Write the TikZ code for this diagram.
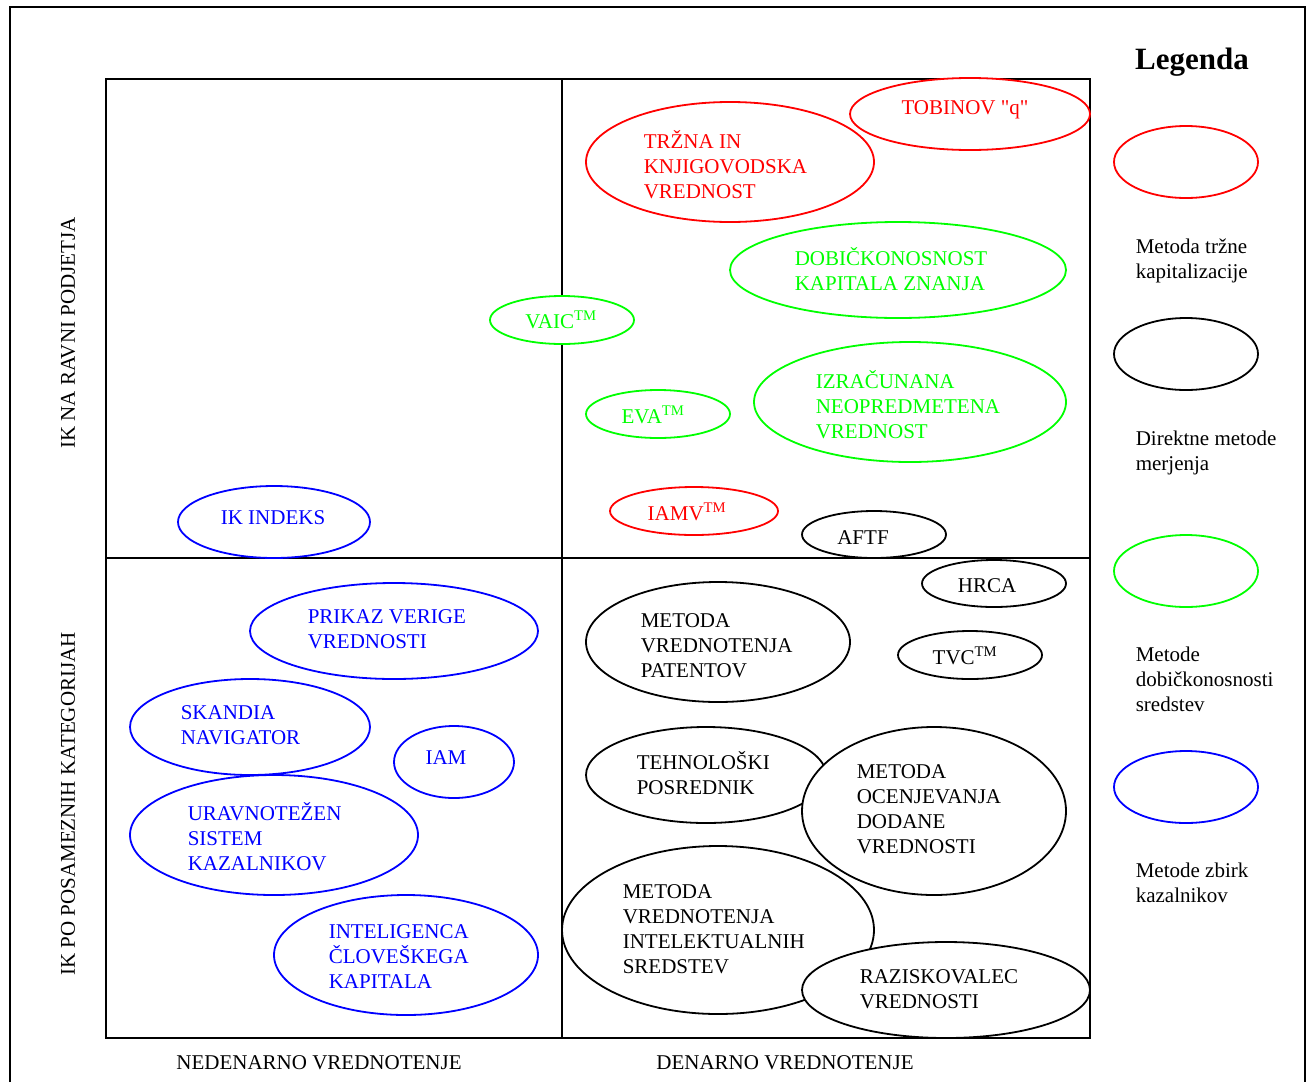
\documentclass[tikz,border=0pt]{standalone}
\usepackage{fontspec}
\setmainfont{Liberation Serif}
\usetikzlibrary{shapes.geometric}
\definecolor{pureG}{RGB}{0,255,0}
\begin{document}
\begin{tikzpicture}[x=1pt,y=-1pt, line width=1.6pt,
  ov/.style={ellipse, draw, fill=white, line width=1.8pt, inner sep=0pt},
  esz/.style 2 args={minimum width=#1pt, minimum height=#2pt},
  redov/.style={ov, draw=red},
  grnov/.style={ov, draw=pureG},
  bluov/.style={ov, draw=blue},
  blkov/.style={ov, draw=black},
  tx/.style={font=\fontsize{21}{25}\selectfont, align=left, inner sep=0pt},
  txw/.style={tx, anchor=west},
  lbl/.style={font=\fontsize{21}{25}\selectfont, align=left, inner sep=0pt},
]
\useasboundingbox (0,0) rectangle (1311,1082);
% outer frame
\draw (10,1082) -- (10,7) -- (1305,7) -- (1305,1082);
% quadrant grid
\draw (106,79) rectangle (1090,1038);
\draw (562,79) -- (562,1038);
\draw (106,558) -- (1090,558);

% methods
\node[redov, esz={240}{72}] (tobin) at (970,114) {};
\node[tx, text=red] (tobint) at (965,110) {TOBINOV \textquotedbl q\textquotedbl};
\node[redov, esz={288}{120}] (trzna) at (730,162) {};
\node[txw, text=red] (trznat) at (643,165) {TRŽNA IN\\KNJIGOVODSKA\\VREDNOST};
\node[grnov, esz={336}{96}] (dobic) at (898,270) {};
\node[txw, text=pureG] (dobict) at (794,269.5) {DOBIČKONOSNOST\\KAPITALA ZNANJA};
\node[grnov, esz={144}{48}] (vaic) at (562,320) {};
\node[tx, text=pureG] (vaict) at (561,320) {VAIC\textsuperscript{TM}};
\node[grnov, esz={312}{120}] (izrac) at (910,402) {};
\node[txw, text=pureG] (izract) at (815,405) {IZRAČUNANA\\NEOPREDMETENA\\VREDNOST};
\node[grnov, esz={144}{48}] (eva) at (658,414) {};
\node[tx, text=pureG] (evat) at (653,415) {EVA\textsuperscript{TM}};
\node[bluov, esz={192}{72}] (ikind) at (274,522) {};
\node[tx, text=blue] (ikindt) at (273,518) {IK INDEKS};
\node[redov, esz={168}{48}] (iamv) at (694,511) {};
\node[tx, text=red] (iamvt) at (687,512) {IAMV\textsuperscript{TM}};
\node[blkov, esz={144}{47}] (aftf) at (874,534.5) {};
\node[tx] (aftft) at (863,538) {AFTF};
\node[blkov, esz={144}{47}] (hrca) at (994,583.5) {};
\node[tx] (hrcat) at (987,586) {HRCA};
\node[blkov, esz={264}{120}] (patent) at (718,642) {};
\node[txw] (patentt) at (640,645.5) {METODA\\VREDNOTENJA\\PATENTOV};
\node[blkov, esz={144}{48}] (tvc) at (970,655) {};
\node[tx] (tvct) at (965,656) {TVC\textsuperscript{TM}};
\node[bluov, esz={288}{96}] (verige) at (394,631) {};
\node[txw, text=blue] (veriget) at (307,629.5) {PRIKAZ VERIGE\\VREDNOSTI};
\node[bluov, esz={240}{96}] (skandia) at (250,727) {};
\node[txw, text=blue] (skandiat) at (180,725.5) {SKANDIA\\NAVIGATOR};
\node[bluov, esz={120}{72}] (iam) at (454,762) {};
\node[tx, text=blue] (iamt) at (446,758) {IAM};
\node[bluov, esz={288}{120}] (bsc) at (274,835) {};
\node[txw, text=blue] (bsct) at (187,837) {URAVNOTEŽEN\\SISTEM\\KAZALNIKOV};
\node[bluov, esz={264}{120}] (hci) at (406,955) {};
\node[txw, text=blue] (hcit) at (328,957) {INTELIGENCA\\ČLOVEŠKEGA\\KAPITALA};
\node[blkov, esz={240}{96}] (tehno) at (706,775) {};
\node[txw] (tehnot) at (636,773) {TEHNOLOŠKI\\POSREDNIK};
\node[blkov, esz={264}{168}] (ocen) at (934,811) {};
\node[txw] (ocent) at (856,809) {METODA\\OCENJEVANJA\\DODANE\\VREDNOSTI};
\node[blkov, esz={312}{168}] (intel) at (718,930) {};
\node[txw] (intelt) at (622,929) {METODA\\VREDNOTENJA\\INTELEKTUALNIH\\SREDSTEV};
\node[blkov, esz={288}{96}] (razis) at (946,990) {};
\node[txw] (razist) at (859,989.5) {RAZISKOVALEC\\VREDNOSTI};

% axis labels
\node[lbl, rotate=90] (yl1) at (68,333) {IK NA RAVNI PODJETJA};
\node[lbl, rotate=90] (yl2) at (68,804) {IK PO POSAMEZNIH KATEGORIJAH};
\node[lbl] (xl1) at (319,1063) {NEDENARNO VREDNOTENJE};
\node[lbl] (xl2) at (785,1063) {DENARNO VREDNOTENJE};

% legend
\node[font=\fontsize{31}{36}\selectfont\bfseries, inner sep=0pt] (leg) at (1192,62) {Legenda};
\node[ov, draw=red, esz={144}{72}] (lred) at (1186,162) {};
\node[lbl, anchor=north west] (lredt) at (1135,238) {Metoda tržne\\kapitalizacije};
\node[ov, draw=black, esz={144}{72}] (lblk) at (1186,354) {};
\node[lbl, anchor=north west] (lblkt) at (1135,430.5) {Direktne metode\\merjenja};
\node[ov, draw=pureG, esz={144}{72}] (lgrn) at (1186,571) {};
\node[lbl, anchor=north west] (lgrnt) at (1135,646.5) {Metode\\dobičkonosnosti\\sredstev};
\node[ov, draw=blue, esz={144}{72}] (lblu) at (1186,787) {};
\node[lbl, anchor=north west] (lblut) at (1135,862.5) {Metode zbirk\\kazalnikov};
\end{tikzpicture}
\end{document}
